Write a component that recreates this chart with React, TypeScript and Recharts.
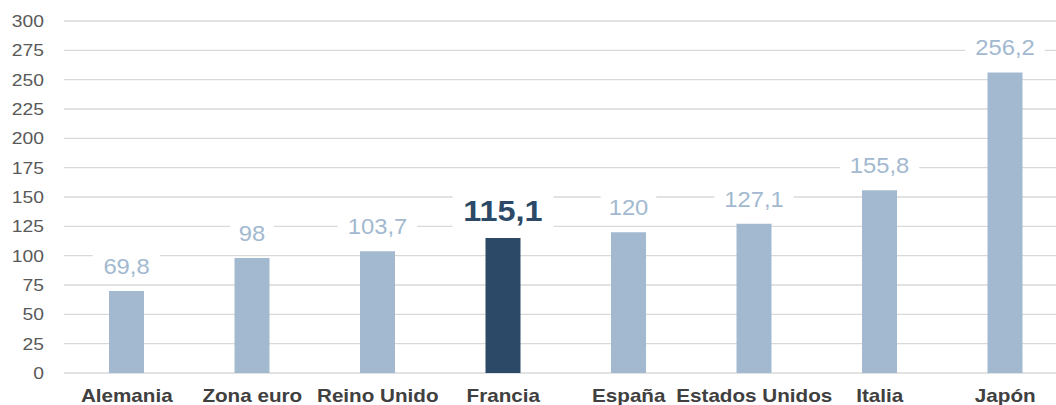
import React from 'react';
import { BarChart, Bar, XAxis, YAxis, CartesianGrid, Cell, LabelList } from 'recharts';

const countries = ['Alemania', 'Zona euro', 'Reino Unido', 'Francia', 'España', 'Estados Unidos', 'Italia', 'Japón'];
const debt = [69.8, 98, 103.7, 115.1, 120, 127.1, 155.8, 256.2];
const yTicks = [0, 25, 50, 75, 100, 125, 150, 175, 200, 225, 250, 275, 300];
const highlight = 'Francia';

const data = countries.map((name, i) => ({ name, value: debt[i] }));

const LIGHT = '#a2b9d0';
const DARK = '#2c4a67';
const FONT = '"Liberation Sans", Arial, sans-serif';

const fmt = (v: number) => String(v).replace('.', ',');

const XTick = (props: any) => {
    const { x, y, payload } = props;
    return (
        <text
            transform={`translate(${x},${y + 21}) scale(1.18,1)`}
            textAnchor="middle"
            fontFamily={FONT}
            fontSize={17.5}
            fontWeight="bold"
            fill="#404040"
        >
            {payload.value}
        </text>
    );
};

const YTick = (props: any) => {
    const { y, payload } = props;
    return (
        <text
            transform={`translate(44,${y + 6}) scale(1.17,1)`}
            textAnchor="end"
            fontFamily={FONT}
            fontSize={16.5}
            fill="#595959"
        >
            {payload.value}
        </text>
    );
};

const ValueLabel = (props: any) => {
    const { x, y, width, value, index } = props;
    const isHi = countries[index] === highlight;
    const size = isHi ? 30 : 22;
    const text = fmt(value);
    const cx = x + width / 2;
    const cy = y - (isHi ? 28 : 25);
    const textW = text.length * size * 0.5 * 1.08;
    const boxW = textW + 20;
    const boxH = isHi ? 38 : 32;
    return (
        <g>
            <rect x={cx - boxW / 2} y={cy - boxH / 2} width={boxW} height={boxH} fill="#ffffff" />
            <text
                transform={`translate(${cx},${cy + size * 0.36}) scale(1.08,1)`}
                textAnchor="middle"
                fontFamily={FONT}
                fontSize={size}
                fontWeight={isHi ? 'bold' : 'normal'}
                fill={isHi ? DARK : LIGHT}
            >
                {text}
            </text>
        </g>
    );
};

export default function App() {
    return (
        <div style={{ position: 'absolute', left: 0, top: 0, width: 1056, height: 405, overflow: 'hidden', background: '#fff' }}>
            <BarChart width={1072} height={405} data={data} margin={{ top: 21, right: 4, bottom: 0, left: 0 }}>
                <CartesianGrid vertical={false} stroke="#d9d9d9" strokeWidth={1.3} />
                <XAxis dataKey="name" height={32} axisLine={false} tickLine={false} interval={0} tick={<XTick />} />
                <YAxis
                    width={64}
                    domain={[0, 300]}
                    ticks={yTicks}
                    axisLine={false}
                    tickLine={false}
                    tick={<YTick />}
                />
                <Bar dataKey="value" barSize={35} isAnimationActive={false}>
                    {data.map((d) => (
                        <Cell key={d.name} fill={d.name === highlight ? DARK : LIGHT} />
                    ))}
                    <LabelList dataKey="value" content={<ValueLabel />} />
                </Bar>
            </BarChart>
        </div>
    );
}
